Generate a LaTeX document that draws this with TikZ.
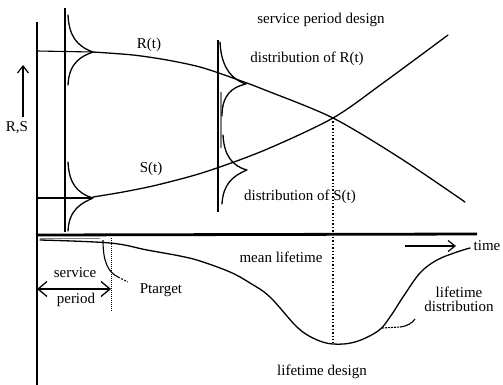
\documentclass[tikz,border=0pt]{standalone}
\usepackage{fontspec}
\setmainfont{Liberation Serif}
\usetikzlibrary{arrows.meta}
\begin{document}
\begin{tikzpicture}[x=1pt,y=-1pt]
\tikzset{
  curve/.style={line width=1.3pt, line join=round, line cap=round},
  axisline/.style={line width=2.8pt},
  guide/.style={line width=1.1pt},
  lbl/.style={font=\fontsize{15}{14}\selectfont, inner sep=0pt},
  barb/.style={-{Straight Barb[length=7pt,width=11pt]}, line width=1.2pt},
  dimarrow/.style={{Straight Barb[length=9pt,width=15pt]}-{Straight Barb[length=9pt,width=15pt]}, line width=1.3pt},
}
\useasboundingbox (0,0) rectangle (503,384);

% axes
\coordinate (ytop) at (37,22);
\coordinate (ybot) at (37,386);
\coordinate (xstart) at (36,235);
\coordinate (xend) at (477,234);
\draw[axisline] (ytop) -- (ybot);
\draw[axisline] (xstart) -- (xend);

% vertical guide lines
\coordinate (v0t) at (65,8);   \coordinate (v0b) at (65,232);
\coordinate (v1t) at (218,40); \coordinate (v1b) at (218,212);
\draw[guide] (v0t) -- (v0b);
\draw[guide] (v1t) -- (v1b);
\draw[gray, line width=1.2pt] (221,92) -- (221,148);

% level markers at t=0
\coordinate (R0) at (93,52);
\coordinate (S0) at (93,198);
\draw[guide] (37,51) -- (R0);
\draw[guide] (37,198) -- (S0);

% distributions at t=0
\draw[curve] (68,15) .. controls (69,35) and (76,46) .. (R0)
             .. controls (82,56) and (69,62) .. (68,85);
\draw[curve] (68,162) .. controls (69,182) and (76,193) .. (S0)
             .. controls (82,203) and (69,209) .. (68,231);

% distributions at t2
\coordinate (R2) at (246,84);
\coordinate (S2) at (247,170);
\draw[curve] (220,42) .. controls (221,65) and (230,79) .. (R2)
             .. controls (232,87) and (222,95) .. (222,116);
\draw[curve] (223,135) .. controls (224,155) and (232,166) .. (S2)
             .. controls (232,176) and (223,185) .. (222,204);

% R(t) and S(t)
\coordinate (X) at (333,118);
\draw[curve] plot[smooth] coordinates {(93,52) (133,55) (167,60) (200,67) (233,78) (265,90) (333,118) (400,158) (465,202)};
\draw[curve] plot[smooth] coordinates {(93,197) (123,192) (157,185) (205,172) (265,150) (333,118) (383,83) (448,35)};

% dotted line to mean lifetime
\coordinate (Xb) at (333,343);
\draw[dotted, line width=1.4pt] (X) -- (Xb);

% lifetime distribution
\draw[gray, line width=0.8pt] (40,238) -- (100,238);
\draw[curve] plot[smooth, tension=0.6] coordinates {(40,240) (110,243) (147,250) (180,256) (200,261) (230,272) (250,283) (270,297) (297,327) (315,339) (333,344) (355,342) (378,331) (390,317) (403,297) (420,273) (437,260) (457,252) (470,248)};

% Ptarget
\draw[guide] (103,240) .. controls (103,262) and (108,272) .. (118,277);
\draw[guide, dash pattern=on 2pt off 1.5pt] (118,277) -- (128,282);
\coordinate (pt1) at (111,238);
\coordinate (pt2) at (111,312);
\draw[densely dotted, line width=1pt] (pt1) -- (pt2);

% service period arrow
\coordinate (sp1) at (37,289);
\coordinate (sp2) at (111,289);
\draw[dimarrow] (sp1) -- (sp2);

% time arrow
\coordinate (t1) at (405,246);
\coordinate (t2) at (456,246);
\draw[barb] (t1) -- (t2);

% R,S arrow
\coordinate (u1) at (23,117);
\coordinate (u2) at (23,65);
\draw[barb] (u1) -- (u2);

% lifetime distribution pointer
\draw[guide, dash pattern=on 2pt off 1pt] (382,328) -- (400,327);
\draw[guide] (400,327) .. controls (408,326) and (412,323) .. (415,319);

% labels
\node[lbl] (spd) at (321,20) {service period design};
\node[lbl] (dR) at (307,59) {distribution of R(t)};
\node[lbl] (dS) at (300,197) {distribution of S(t)};
\node[lbl] (Rt) at (149,45) {R(t)};
\node[lbl] (St) at (151,169) {S(t)};
\node[lbl] (RS) at (17,128) {R,S};
\node[lbl] (ml) at (281,257) {mean lifetime};
\node[lbl] (time) at (487,246) {time};
\node[lbl, align=center] (ld) at (459,299) {lifetime\\distribution};
\node[lbl] (svc) at (75,273) {service};
\node[lbl] (per) at (76,300) {period};
\node[lbl] (pt) at (161,290) {Ptarget};
\node[lbl] (ldes) at (322,372) {lifetime design};
\end{tikzpicture}
\end{document}
